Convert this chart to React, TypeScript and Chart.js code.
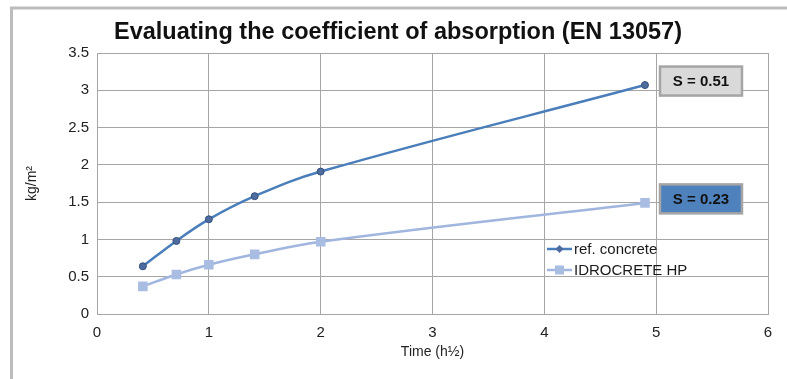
import React, { useEffect, useRef } from "react";
import { Chart, registerables } from "chart.js";

Chart.register(...registerables);

const chartTitle = "Evaluating the coefficient of absorption (EN 13057)";
const timeSqrtH = [0.41, 0.71, 1.0, 1.41, 2.0, 4.9];
const refConcrete = [0.64, 0.98, 1.27, 1.58, 1.91, 3.07];
const idrocreteHP = [0.37, 0.53, 0.66, 0.8, 0.97, 1.49];
const seriesNames = ["ref. concrete", "IDROCRETE HP"];
const slopeLabels = ["S = 0.51", "S = 0.23"];
const xTicksMax = 6;
const yTicksMax = 3.5;

const REF_LINE = "#4a7ebb";
const REF_PT = "#4f6c9f";
const REF_PT_BORDER = "#34507e";
const IDRO_LINE = "#a0b6de";
const IDRO_PT = "#a9bde2";
const GRID = "#a6a6a6";
const FONT = "'Liberation Sans', Arial, Helvetica, sans-serif";

const framePlugin = {
  id: "frame",
  beforeDraw(chart: any) {
    const { ctx, width, height } = chart;
    ctx.save();
    ctx.fillStyle = "#ffffff";
    ctx.fillRect(0, 0, width, height);
    ctx.strokeStyle = "#bcbcbc";
    ctx.lineWidth = 3;
    ctx.beginPath();
    ctx.moveTo(11.5, height);
    ctx.lineTo(11.5, 8);
    ctx.lineTo(width, 8);
    ctx.stroke();
    ctx.fillStyle = "#111111";
    ctx.font = `bold 23.5px ${FONT}`;
    ctx.textAlign = "center";
    ctx.textBaseline = "middle";
    ctx.fillText(chartTitle, 398, 33);
    ctx.restore();
  },
};

const annotPlugin = {
  id: "annot",
  afterDatasetsDraw(chart: any) {
    const { ctx, chartArea } = chart;
    const xs = chart.scales.x;
    const ys = chart.scales.y;
    ctx.save();
    const fills = ["#d9d9d9", "#4f81bd"];
    chart.data.datasets.forEach((ds: any, i: number) => {
      const last = ds.data[ds.data.length - 1];
      const px = xs.getPixelForValue(last.x);
      const py = ys.getPixelForValue(last.y);
      const bx = px + 15;
      const bw = 82;
      const bh = 29;
      const by = py - 4 - bh / 2;
      ctx.fillStyle = fills[i];
      ctx.fillRect(bx, by, bw, bh);
      ctx.strokeStyle = "#a5a5a5";
      ctx.lineWidth = 2.5;
      ctx.strokeRect(bx, by, bw, bh);
      ctx.fillStyle = "#111111";
      ctx.font = `bold 15px ${FONT}`;
      ctx.textAlign = "center";
      ctx.textBaseline = "middle";
      ctx.fillText(slopeLabels[i], bx + bw / 2, by + bh / 2 + 1);
    });
    const lx = chartArea.left + 450;
    const ly = chartArea.top + 196;
    const rows = [
      { color: REF_LINE, pt: REF_PT, style: "diamond" },
      { color: IDRO_LINE, pt: IDRO_PT, style: "square" },
    ];
    rows.forEach((r, i) => {
      const y = ly + i * 21;
      ctx.strokeStyle = r.color;
      ctx.lineWidth = 2.5;
      ctx.beginPath();
      ctx.moveTo(lx, y);
      ctx.lineTo(lx + 25, y);
      ctx.stroke();
      ctx.fillStyle = r.pt;
      const cx = lx + 12.5;
      if (r.style === "diamond") {
        ctx.beginPath();
        ctx.moveTo(cx, y - 4);
        ctx.lineTo(cx + 4, y);
        ctx.lineTo(cx, y + 4);
        ctx.lineTo(cx - 4, y);
        ctx.closePath();
        ctx.fill();
      } else {
        ctx.fillRect(cx - 4.5, y - 4.5, 9, 9);
      }
      ctx.fillStyle = "#1a1a1a";
      ctx.font = `15px ${FONT}`;
      ctx.textAlign = "left";
      ctx.textBaseline = "middle";
      ctx.fillText(seriesNames[i], lx + 27, y + 1);
    });
    ctx.restore();
  },
};

export default function App() {
  const ref = useRef<HTMLCanvasElement | null>(null);
  useEffect(() => {
    if (!ref.current) return;
    const chart = new Chart(ref.current, {
      type: "line",
      data: {
        datasets: [
          {
            label: seriesNames[0],
            data: timeSqrtH.map((x, i) => ({ x, y: refConcrete[i] })),
            borderColor: REF_LINE,
            backgroundColor: REF_PT,
            pointBackgroundColor: REF_PT,
            pointBorderColor: REF_PT_BORDER,
            pointBorderWidth: 1,
            pointRadius: 3.5,
            pointStyle: "circle",
            borderWidth: 2.5,
            tension: 0.4,
            fill: false,
          },
          {
            label: seriesNames[1],
            data: timeSqrtH.map((x, i) => ({ x, y: idrocreteHP[i] })),
            borderColor: IDRO_LINE,
            backgroundColor: IDRO_PT,
            pointBackgroundColor: IDRO_PT,
            pointBorderColor: IDRO_PT,
            pointRadius: 5,
            pointStyle: "rect",
            borderWidth: 2.5,
            tension: 0.4,
            fill: false,
          },
        ],
      },
      options: {
        animation: false,
        responsive: false,
        maintainAspectRatio: false,
        layout: { padding: { left: 0, right: 19, top: 53, bottom: 0 } },
        plugins: {
          legend: { display: false },
          tooltip: { enabled: false },
          title: { display: false },
        },
        scales: {
          x: {
            type: "linear",
            min: 0,
            max: xTicksMax,
            ticks: {
              stepSize: 1,
              color: "#222222",
              font: { family: FONT, size: 15 },
              padding: 10,
            },
            grid: { color: GRID, drawTicks: false, lineWidth: 1 },
            border: { color: GRID },
            title: {
              display: true,
              text: "Time (h½)",
              color: "#222222",
              font: { family: FONT, size: 14 },
              padding: { top: 0, bottom: 18 },
            },
            afterFit: (s: any) => {
              s.height = 65;
            },
          },
          y: {
            min: 0,
            max: yTicksMax,
            ticks: {
              stepSize: 0.5,
              color: "#222222",
              font: { family: FONT, size: 15 },
              padding: 8,
              callback: (v: any) => String(Number(v)),
            },
            grid: { color: GRID, drawTicks: false, lineWidth: 1 },
            border: { color: GRID },
            title: {
              display: true,
              text: "kg/m²",
              color: "#222222",
              font: { family: FONT, size: 14 },
              padding: { top: 24, bottom: 0 },
            },
            afterFit: (s: any) => {
              s.width = 97;
            },
          },
        },
      },
      plugins: [framePlugin, annotPlugin],
    } as any);
    return () => chart.destroy();
  }, []);
  return (
    <div style={{ position: "fixed", left: 0, top: 0, width: 787, height: 379 }}>
      <canvas ref={ref} width={787} height={379} style={{ display: "block", width: 787, height: 379 }} />
    </div>
  );
}
